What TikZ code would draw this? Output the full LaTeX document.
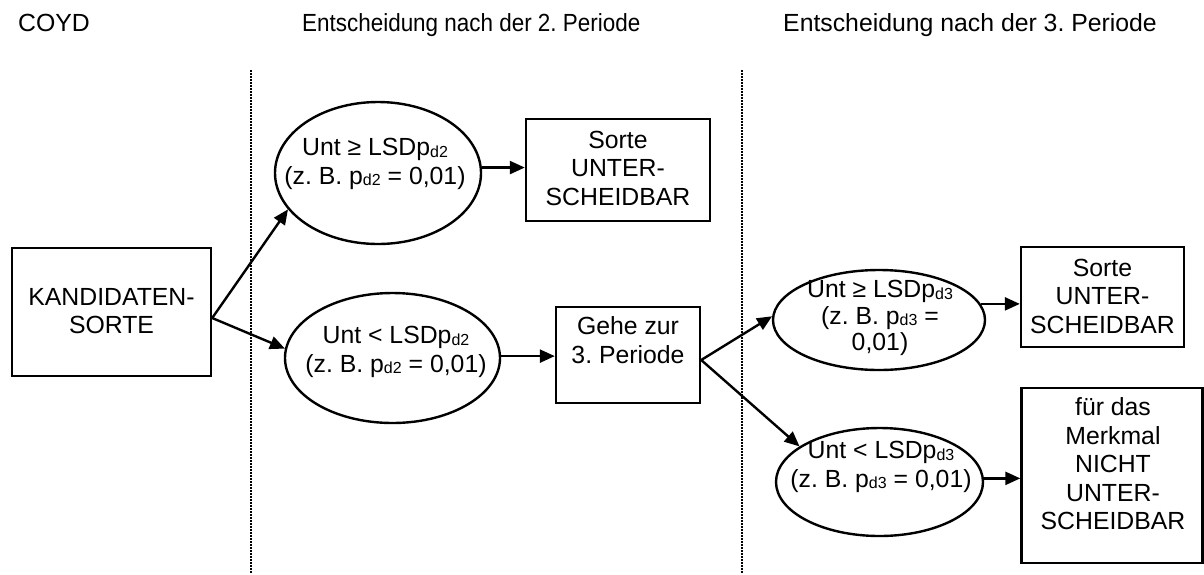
\documentclass[tikz,border=0pt]{standalone}
\usepackage{fontspec}
\setmainfont{Liberation Sans}
\usetikzlibrary{arrows.meta,shapes.geometric}
% lowered, smaller index as in p_{d2}
\newcommand{\lowidx}[1]{\raisebox{-1.5pt}{\fontsize{16}{16}\selectfont #1}}
\frenchspacing
\begin{document}
\begin{tikzpicture}[x=1pt,y=-1pt,
  txt/.style={font=\fontsize{24.8}{28.5}\selectfont, align=center, inner sep=0pt},
  head/.style={font=\fontsize{24.8}{28.5}\selectfont, inner sep=0pt, anchor=base west},
  box/.style={draw, line width=2.4pt, inner sep=0pt},
  ell/.style={draw, ellipse, line width=2.4pt, inner sep=0pt},
  conn/.style={line width=2.4pt, -{Triangle[length=15pt,width=13pt]}},
  sep/.style={line width=2pt, dash pattern=on 1.5pt off 1.5pt}]
\useasboundingbox (0,0) rectangle (1204,574);

% headings
\node[head] (h0) at (18,31) {COYD};
\node[head] (h1) at (302,31) {\scalebox{0.905}[1]{Entscheidung nach der 2. Periode}};
\node[head] (h2) at (783,31) {Entscheidung nach der 3. Periode};

% period separators
\coordinate (s1a) at (251,70); \coordinate (s1b) at (251,574);
\coordinate (s2a) at (742,70); \coordinate (s2b) at (742,574);
\draw[sep] (s1a) -- (s1b);
\draw[sep] (s2a) -- (s2b);

% shapes
\node[box, minimum width=199, minimum height=128] (K) at (111.5,312) {};
\node[ell, minimum width=206, minimum height=142] (E1) at (378,173) {};
\node[ell, minimum width=215, minimum height=130] (E2) at (392.5,358) {};
\node[box, minimum width=184, minimum height=102] (B1) at (618,170) {};
\node[box, minimum width=144, minimum height=96] (G) at (628,355) {};
\node[ell, minimum width=212, minimum height=100] (E3) at (879,320) {};
\node[ell, minimum width=207, minimum height=108] (E4) at (879.5,482) {};
\node[box, minimum width=163, minimum height=100] (B3) at (1102.5,297) {};
\node[box, minimum width=181, minimum height=175] (B4) at (1112,475.5) {};

% texts
\node[txt] (Kt) at (111.5,311) {KANDIDATEN-\\SORTE};
\node[txt] (E1t) at (375,164) {Unt ≥ LSDp\lowidx{d2}\\(z. B. p\lowidx{d2} = 0,01)};
\node[txt] (E2t) at (396,352) {Unt < LSDp\lowidx{d2}\\(z. B. p\lowidx{d2} = 0,01)};
\node[txt] (B1t) at (618,168) {Sorte\\UNTER-\\SCHEIDBAR};
\node[txt] (Gt) at (628,340) {Gehe zur\\3. Periode};
\node[txt, font=\fontsize{24.8}{26.5}\selectfont] (E3t) at (880,318) {Unt ≥ LSDp\lowidx{d3}\\(z. B. p\lowidx{d3} =\\0,01)};
\node[txt] (E4t) at (881,467) {Unt < LSDp\lowidx{d3}\\(z. B. p\lowidx{d3} = 0,01)};
\node[txt] (B3t) at (1102.5,296) {Sorte\\UNTER-\\SCHEIDBAR};
\node[txt] (B4t) at (1113,464) {für das\\Merkmal\\NICHT\\UNTER-\\SCHEIDBAR};

% connectors
\draw[conn] ([yshift=-6pt]K.east) -- (E1.202);
\draw[conn] ([yshift=-6pt]K.east) -- (E2.175);
\draw[conn] (E1.3) -- (E1.3 -| B1.west);
\draw[conn] (E2.1) -- (E2.1 -| G.west);
\draw[conn] ([yshift=-5pt]G.east) -- (E3.178);
\draw[conn] ([yshift=-5pt]G.east) -- (E4.156);
\draw[conn] (E3.9) -- (E3.9 -| B3.west);
\draw[conn] (E4.2) -- (E4.2 -| B4.west);
\end{tikzpicture}
\end{document}
